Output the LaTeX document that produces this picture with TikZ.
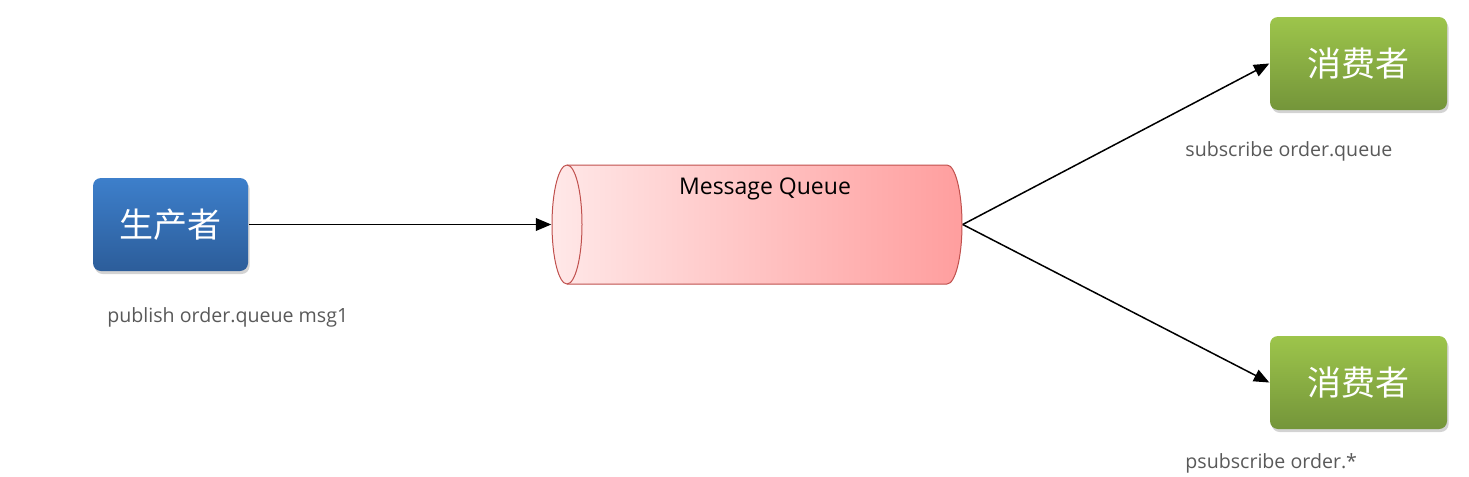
\documentclass[tikz,border=0pt]{standalone}
\usepackage{fontspec}
\setmainfont{Open Sans}
\newfontfamily\cjk{Noto Sans CJK SC}
\usetikzlibrary{arrows,shapes,shadows}
\definecolor{prodtop}{HTML}{3D7FCB}
\definecolor{prodbot}{HTML}{2C5D9A}
\definecolor{constop}{HTML}{9DC54B}
\definecolor{consbot}{HTML}{74953A}
\definecolor{mqleft}{HTML}{FFE8E8}
\definecolor{mqright}{HTML}{FF9E9E}
\definecolor{mqline}{HTML}{C0504D}
\definecolor{labgray}{HTML}{595959}
\tikzstyle{every picture}+=[>=triangle 45]
\tikzstyle{every picture}+=[line width=0.75pt]
\tikzstyle{box}=[rectangle,rounded corners=4pt,minimum height=46.5pt,
  text=white,font=\cjk\fontsize{17}{20}\selectfont,
  drop shadow={opacity=.35,shadow xshift=.8pt,shadow yshift=-1.5pt}]
\tikzstyle{producer}=[box,minimum width=77.5pt,top color=prodtop,bottom color=prodbot]
\tikzstyle{consumer}=[box,minimum width=88.5pt,top color=constop,bottom color=consbot]
\tikzstyle{cmd}=[anchor=west,text=labgray,font=\fontsize{9.8}{12}\selectfont]
\tikzstyle{tube}=[draw=mqline,line width=0.5pt]
\begin{document}
\begin{tikzpicture}[x=0.5pt,y=-0.5pt]
\useasboundingbox (0,0) rectangle (1469,477);

\node[producer] (prod) at (170.5,224.5) {生产者};
\node[consumer] (cons1) at (1358.5,63.5) {消费者};
\node[consumer] (cons2) at (1358.5,382.5) {消费者};

% the queue: a tube lying on its side
\draw[tube,left color=mqleft,right color=mqright] (567,165) -- (947,165)
  arc[start angle=90,end angle=-90,x radius=7.5pt,y radius=29.75pt] -- (567,284)
  arc[start angle=270,end angle=90,x radius=7.5pt,y radius=29.75pt] -- cycle;
\draw[tube] (567,165) arc[start angle=90,end angle=-90,x radius=7.5pt,y radius=29.75pt];
\node[minimum width=205pt,minimum height=59.5pt,inner sep=0pt] (mq) at (757,224.5) {};
\node[font=\fontsize{11.5}{13}\selectfont] (mqtext) at (765,189) {Message Queue};

\node[cmd] (pub) at (100,317) {publish order.queue msg1};
\node[cmd] (sub) at (1178,151) {subscribe order.queue};
\node[cmd] (psub) at (1178,463) {psubscribe order.*};

\draw[->] (prod.east) -- (mq.west);
\draw[->] (mq.east) -- (cons1.west);
\draw[->] (mq.east) -- (cons2.west);
\end{tikzpicture}
\end{document}
